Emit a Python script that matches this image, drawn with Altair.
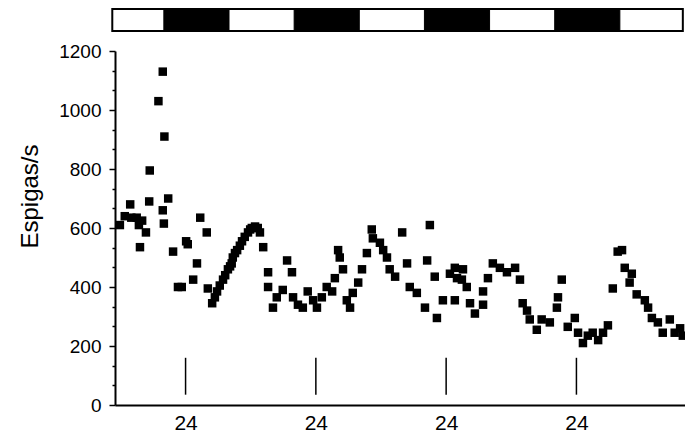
import altair as alt
import pandas as pd

# Spike-rate recording (hours, spikes/s)
hours = [
    -0.1, 0.8, 1.8, 2.0, 3.0, 3.4, 4.0, 3.6, 4.7, 5.3, 5.4, 7.0, 7.8, 8.1, 7.8, 8.0, 8.8,
    9.7, 10.6, 11.3, 12.1, 12.4, 13.4, 14.1, 14.7, 15.9, 16.1, 16.9, 17.4, 17.8, 18.3,
    18.9, 19.3, 19.8, 20.2, 20.5, 20.7, 21.1, 21.5, 22.0, 22.4, 22.9, 23.5, 23.9, 24.2,
    24.8, 25.3, 25.7, 26.3,
    27.2, 27.2, 28.1, 28.8, 29.9, 30.7, 31.6, 31.8, 32.7, 33.6, 34.5, 35.5, 36.2, 37.1,
    38.0, 39.0, 39.5, 40.1, 40.4, 41.0, 41.7, 42.3, 42.8, 43.8, 44.5, 45.4, 46.3, 46.5,
    47.8, 48.4, 49.1, 49.6, 50.6, 51.9, 52.8, 53.3, 54.6, 56.1, 56.5, 57.0, 57.9, 58.3,
    59.4, 60.7, 61.6, 62.0, 61.6, 62.9, 63.1, 63.8, 64.4, 65.3, 66.8, 66.8, 67.7, 68.6,
    69.9, 71.2, 72.7, 73.6, 74.1, 74.9, 75.4, 76.7, 77.6, 79.1, 80.4, 80.6, 81.3, 82.4,
    83.7, 84.3, 85.2, 86.1, 87.0, 88.0, 88.9, 89.8, 90.7, 91.6, 92.4, 92.9, 93.8, 94.2,
    95.1, 96.6, 97.2, 97.9, 99.0, 99.9, 101.2, 102.1, 103.1, 103.6,
]
rates = [
    610, 640, 680, 635, 635, 610, 625, 535, 585, 690, 795, 1030, 1130, 910, 660, 615, 700,
    520, 400, 400, 555, 545, 425, 480, 635, 585, 395, 345, 365, 385, 405,
    425, 440, 460, 470, 480, 500, 515, 525, 540, 555, 570, 585, 595, 600,
    605, 600, 585, 535,
    450, 400, 330, 365, 390, 490, 450, 365, 340, 330, 385, 355, 330, 365,
    400, 385, 430, 525, 500, 460, 355, 330, 380, 415, 460, 515, 595, 565,
    550, 525, 500, 460, 435, 585, 480, 400, 380, 330, 490, 610, 435, 295,
    355, 445, 465, 430, 355, 425, 460, 400, 345, 310, 340, 385, 430, 480,
    465, 450, 465, 425, 345, 320, 290, 255, 290, 280, 330, 365, 425, 265,
    295, 245, 210, 235, 245, 220, 245, 270, 395, 520, 525, 465, 415, 445,
    375, 355, 330, 295, 280, 245, 290, 245, 260, 235,
]

# Light/dark bar (hours)
bar_span = [-1.5, 103.6]
dark_start = [8, 32, 56, 80]
dark_end = [20, 44, 68, 92]
bar_y = [1268, 1342]

# 24-h markers
marker_hours = [12, 36, 60, 84]
marker_y = [35, 160]

y_major = [0, 200, 400, 600, 800, 1000, 1200]
y_minor = [66.7, 133.3, 266.7, 333.3, 466.7, 533.3, 666.7, 733.3, 866.7, 933.3, 1066.7, 1133.3]

pts = pd.DataFrame({"h": hours, "v": rates})
bar_df = pd.DataFrame({"h": [bar_span[0]], "h2": [bar_span[1]], "v": [bar_y[0]], "v2": [bar_y[1]]})
dark_df = pd.DataFrame({"h": dark_start, "h2": dark_end, "v": [bar_y[0]] * 4, "v2": [bar_y[1]] * 4})
mark_df = pd.DataFrame({"h": marker_hours, "v": [marker_y[0]] * 4, "v2": [marker_y[1]] * 4})

FONT = "Liberation Sans"
x_scale = alt.Scale(domain=[-1, 104], nice=False, zero=False)
y_scale = alt.Scale(domain=[0, 1200], nice=False)

x_axis = alt.Axis(
    values=marker_hours, labelExpr="'24'", ticks=False, grid=False, title=None,
    domainWidth=2, domainColor="black", labelFontSize=21, labelPadding=7,
    labelColor="black", labelFont=FONT, labelFlush=False,
)
y_axis = alt.Axis(
    values=sorted(y_major + y_minor), format="d",
    labelExpr="datum.value % 200 < 1 ? datum.label : ''",
    tickSize={"condition": {"test": "datum.value % 200 < 1", "value": 6}, "value": 3},
    tickColor="black", tickWidth=1.5, grid=False,
    domainWidth=2, domainColor="black", labelFontSize=19, labelPadding=8,
    labelColor="black", labelFont=FONT, labelOverlap=False, labelFlush=False,
    title="Espigas/s", titleFont=FONT, titleFontSize=24, titleFontWeight="normal",
    titleColor="black", titleAngle=-90, titleX=-78, titleY=145,
    titleAlign="center", titleBaseline="alphabetic",
)

bar_outer = alt.Chart(bar_df).mark_rect(fill="white", stroke="black", strokeWidth=2).encode(
    x=alt.X("h:Q", scale=x_scale, axis=x_axis), x2="h2:Q",
    y=alt.Y("v:Q", scale=y_scale, axis=y_axis), y2="v2:Q",
)
bar_dark = alt.Chart(dark_df).mark_rect(fill="black", stroke="black", strokeWidth=1).encode(
    x=alt.X("h:Q", scale=x_scale, axis=x_axis), x2="h2:Q",
    y=alt.Y("v:Q", scale=y_scale, axis=y_axis), y2="v2:Q",
)
markers = alt.Chart(mark_df).mark_rule(color="black", strokeWidth=1.5).encode(
    x=alt.X("h:Q", scale=x_scale, axis=x_axis),
    y=alt.Y("v:Q", scale=y_scale, axis=y_axis), y2="v2:Q",
)
points = alt.Chart(pts).mark_square(size=72, color="black", opacity=1).encode(
    x=alt.X("h:Q", scale=x_scale, axis=x_axis),
    y=alt.Y("v:Q", scale=y_scale, axis=y_axis),
)

chart = alt.layer(bar_outer, bar_dark, markers, points).properties(
    width=570, height=354,
    padding={"left": 115, "top": 51, "right": 0, "bottom": 27},
    autosize=alt.AutoSizeParams(type="none"),
    background="white",
).configure_view(stroke=None)

chart.save("out.html", embed_options={"renderer": "svg", "actions": False})
